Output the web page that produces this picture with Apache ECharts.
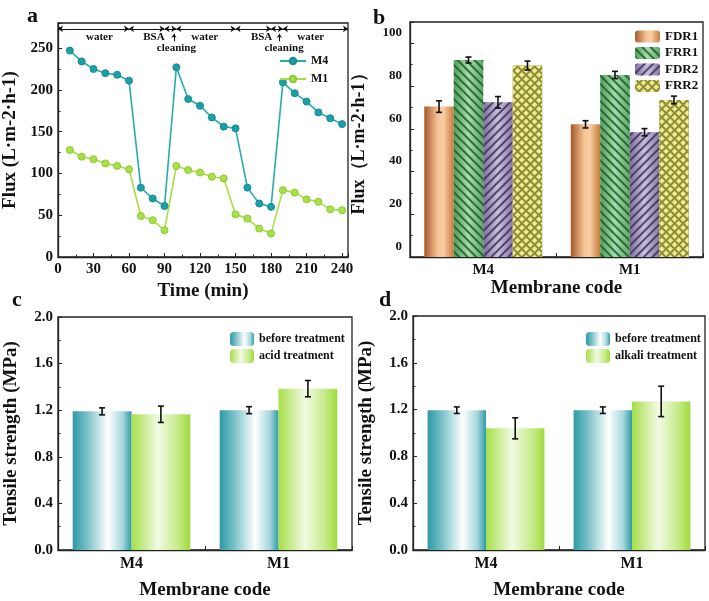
<!DOCTYPE html>
<html lang="en">
<head>
    <meta charset="UTF-8">
    <title>Flux and tensile strength</title>
    <style>
        body, html { margin: 0; padding: 0; background: #fff; }
    </style>
</head>
<body>
<div id="main" style="width: 709px; height: 601px;"></div>
<script src="https://cdn.jsdelivr.net/npm/echarts@6/dist/echarts.min.js"></script>
<script>
    // ---- panel a: flux vs time ----
    var timeMin = [10, 20, 30, 40, 50, 60, 70, 80, 90, 100, 110, 120, 130, 140, 150, 160, 170, 180, 190, 200, 210, 220, 230, 240];
    var fluxM4 = [247, 234, 225, 220, 218, 211, 83, 70, 61, 227, 189, 181, 167, 156, 154, 83, 64, 60, 209, 196, 186, 173, 166, 159];
    var fluxM1 = [128, 120, 117, 112, 109, 105, 49, 44, 32, 109, 104, 101, 96, 94, 51, 46, 34, 28, 80, 77, 69, 66, 57, 56];
    var phaseNames = ['water', 'BSA', 'cleaning', 'water', 'BSA', 'cleaning', 'water'];
    var phaseEdges = [0, 60, 90, 100, 150, 180, 190, 245];
    var cleaningAt = [98, 187];

    // ---- panel b: flux ratios ----
    var membranes = ['M4', 'M1'];
    var ratioNames = ['FDR1', 'FRR1', 'FDR2', 'FRR2'];
    var fdr1 = [70.4, 62.1];
    var frr1 = [92.2, 85.2];
    var fdr2 = [72.4, 58.4];
    var frr2 = [89.6, 73.5];
    var fdr1Err = [2.7, 1.7];
    var frr1Err = [1.4, 1.7];
    var fdr2Err = [2.7, 1.7];
    var frr2Err = [2.1, 1.8];

    // ---- panel c / d: tensile strength ----
    var beforeC = [1.19, 1.20];
    var beforeCErr = [0.03, 0.03];
    var acid = [1.165, 1.385];
    var acidErr = [0.07, 0.07];
    var beforeD = [1.195, 1.195];
    var beforeDErr = [0.028, 0.028];
    var alkali = [1.04, 1.27];
    var alkaliErr = [0.09, 0.13];

    var FONT = '"Liberation Serif", "Times New Roman", serif';

    function txt(size, extra) {
        var o = {fontFamily: FONT, fontWeight: 'bold', color: '#111', fontSize: size};
        for (var k in extra) o[k] = extra[k];
        return o;
    }

    function hGrad(stops) {
        return {
            type: 'linear', x: 0, y: 0, x2: 1, y2: 0,
            colorStops: stops.map(function (s) { return {offset: s[0], color: s[1]}; })
        };
    }

    var tealGrad = hGrad([[0, '#2e9aa6'], [0.2, '#6ab9c1'], [0.6, '#ffffff'], [0.85, '#a6d7dc'], [1, '#2e9aa6']]);
    var limeGrad = hGrad([[0, '#a6df48'], [0.45, '#f2fae4'], [0.8, '#c4ea86'], [1, '#9edb3c']]);

    // error bars drawn on top of grouped bars
    function errorSeries(axisIdx, vals, errs, idx, n, gap) {
        return {
            type: 'custom', xAxisIndex: axisIdx, yAxisIndex: axisIdx, z: 10, silent: true,
            data: vals.map(function (v, i) { return [i, v, errs[i]]; }),
            encode: {x: 0, y: 1},
            renderItem: function (params, api) {
                var c = api.value(0), v = api.value(1), e = api.value(2);
                var catW = api.size([1, 0])[0];
                var groupW = catW * (1 - gap);
                var bw = groupW / n;
                var dx = -groupW / 2 + (idx + 0.5) * bw;
                var top = api.coord([c, v + e]), bot = api.coord([c, v - e]);
                var x = top[0] + dx, hw = 3;
                var st = {stroke: '#111', lineWidth: 1.6};
                return {
                    type: 'group', children: [
                        {type: 'line', shape: {x1: x, y1: top[1], x2: x, y2: bot[1]}, style: st},
                        {type: 'line', shape: {x1: x - hw, y1: top[1], x2: x + hw, y2: top[1]}, style: st},
                        {type: 'line', shape: {x1: x - hw, y1: bot[1], x2: x + hw, y2: bot[1]}, style: st}
                    ]
                };
            }
        };
    }

    var gridStyle = {show: true, borderColor: '#222', borderWidth: 1.3, backgroundColor: 'transparent'};
    function grid(l, t, w, h) {
        return Object.assign({left: l, top: t, width: w, height: h}, gridStyle);
    }

    var axisLine = {show: true, lineStyle: {color: '#222', width: 1.3}};
    var tick = {show: true, inside: true, length: 4, lineStyle: {color: '#222'}};
    var minor = {show: true, splitNumber: 2, length: 2.5, lineStyle: {color: '#222'}};

    // phase annotation arrows + labels along the top of panel a
    var arrowY = 273;
    var phaseLines = [];
    var phaseLabels = [];
    var labelShift = [5, 6, 5, -1, 7, 6, -4];
    for (var i = 0; i < phaseNames.length; i++) {
        phaseLines.push([{coord: [phaseEdges[i], arrowY]}, {coord: [phaseEdges[i + 1], arrowY]}]);
        var mid = (phaseEdges[i] + phaseEdges[i + 1]) / 2 + labelShift[i];
        var yy = phaseNames[i] === 'cleaning' ? 250 : 263;
        phaseLabels.push({coord: [mid, yy], value: phaseNames[i]});
    }
    cleaningAt.forEach(function (t) {
        phaseLines.push([{coord: [t, 258], symbol: 'none'}, {coord: [t, 267], symbol: 'arrow', symbolSize: 4}]);
    });

    var patternSeries = [
        {name: 'FDR1', data: fdr1, color: hGrad([[0, '#a4582a'], [0.45, '#f6c394'], [0.65, '#f8cda2'], [1, '#c77a3c']]), decal: null},
        {name: 'FRR1', data: frr1, color: hGrad([[0, '#4f9e5c'], [0.5, '#a6dcae'], [1, '#5aa866']]),
            decal: {symbol: 'rect', symbolSize: 1, dashArrayX: [1, 0], dashArrayY: [1.5, 4], rotation: Math.PI / 4, color: 'rgba(30,90,40,0.85)'}},
        {name: 'FDR2', data: fdr2, color: hGrad([[0, '#7e6e9c'], [0.5, '#c9c0dc'], [1, '#8a7aa8']]),
            decal: {symbol: 'rect', symbolSize: 1, dashArrayX: [1, 0], dashArrayY: [1.5, 4], rotation: -Math.PI / 4, color: 'rgba(60,50,90,0.85)'}},
        {name: 'FRR2', data: frr2, color: '#8e8c34',
            decal: {symbol: 'rect', symbolSize: 1, dashArrayX: [3.5, 1.3], dashArrayY: [3.5, 1.3], rotation: Math.PI / 4, color: '#ecec92'}}
    ];
    var ratioErrs = [fdr1Err, frr1Err, fdr2Err, frr2Err];

    var series = [
        {
            name: 'M4', type: 'line', xAxisIndex: 0, yAxisIndex: 0,
            data: timeMin.map(function (t, i) { return [t, fluxM4[i]]; }),
            symbol: 'circle', symbolSize: 7,
            lineStyle: {color: '#26acac', width: 1.6},
            itemStyle: {color: '#1ba0a6', borderColor: '#168c92', borderWidth: 1}
        },
        {
            name: 'M1', type: 'line', xAxisIndex: 0, yAxisIndex: 0,
            data: timeMin.map(function (t, i) { return [t, fluxM1[i]]; }),
            symbol: 'circle', symbolSize: 7,
            lineStyle: {color: '#a4e040', width: 1.6},
            itemStyle: {color: '#a8e048', borderColor: '#8cc830', borderWidth: 1}
        },
        {
            type: 'line', xAxisIndex: 0, yAxisIndex: 0, data: [], silent: true,
            markLine: {
                silent: true, symbol: ['arrow', 'arrow'], symbolSize: 5,
                lineStyle: {color: '#111', width: 1, type: 'solid'},
                label: {show: false},
                data: phaseLines
            },
            markPoint: {
                silent: true, symbol: 'circle', symbolSize: 0,
                label: {show: true, position: 'inside', formatter: '{c}', fontFamily: FONT, fontWeight: 'bold', fontSize: 11, color: '#111'},
                data: phaseLabels
            }
        }
    ];

    patternSeries.forEach(function (s) {
        series.push({
            name: s.name, type: 'bar', xAxisIndex: 1, yAxisIndex: 1,
            data: s.data, barGap: '0%', barCategoryGap: '19.5%',
            itemStyle: {color: s.color, decal: s.decal || {symbol: 'none'}}
        });
    });
    patternSeries.forEach(function (s, j) {
        series.push(errorSeries(1, s.data, ratioErrs[j], j, 4, 0.195));
    });

    series.push(
        {name: 'before treatment', type: 'bar', xAxisIndex: 2, yAxisIndex: 2, data: beforeC, barGap: '0%', barCategoryGap: '20%', itemStyle: {color: tealGrad}},
        {name: 'acid treatment', type: 'bar', xAxisIndex: 2, yAxisIndex: 2, data: acid, barGap: '0%', barCategoryGap: '20%', itemStyle: {color: limeGrad}},
        errorSeries(2, beforeC, beforeCErr, 0, 2, 0.2),
        errorSeries(2, acid, acidErr, 1, 2, 0.2),
        {name: 'before treatment', type: 'bar', xAxisIndex: 3, yAxisIndex: 3, data: beforeD, barGap: '0%', barCategoryGap: '20%', itemStyle: {color: tealGrad}},
        {name: 'alkali treatment', type: 'bar', xAxisIndex: 3, yAxisIndex: 3, data: alkali, barGap: '0%', barCategoryGap: '20%', itemStyle: {color: limeGrad}},
        errorSeries(3, beforeD, beforeDErr, 0, 2, 0.2),
        errorSeries(3, alkali, alkaliErr, 1, 2, 0.2)
    );

    function catAxis(gi, size, gap) {
        return {
            type: 'category', gridIndex: gi, data: membranes,
            name: 'Membrane code', nameLocation: 'middle', nameGap: gap,
            nameTextStyle: txt(19),
            axisLine: axisLine, axisTick: {show: true, inside: true, length: 4, lineStyle: {color: '#222'}},
            axisLabel: txt(size, {margin: 6}),
            splitLine: {show: false}
        };
    }

    function tensileY(gi) {
        return {
            type: 'value', gridIndex: gi, min: 0, max: 2, interval: 0.4,
            name: 'Tensile strength (MPa)', nameLocation: 'middle', nameGap: 37, nameRotate: 90,
            nameTextStyle: txt(19),
            axisLine: axisLine, axisTick: tick, minorTick: minor,
            axisLabel: txt(15, {margin: 5, formatter: function (v) { return v.toFixed(1); }}),
            splitLine: {show: false}
        };
    }

    var myChart = echarts.init(document.getElementById('main'), null, {renderer: 'canvas'});
    myChart.setOption({
        backgroundColor: '#fff',
        animation: false,
        title: [
            {text: 'a', left: 22, top: 0, textStyle: txt(22)},
            {text: 'b', left: 368, top: 2, textStyle: txt(22)},
            {text: 'c', left: 7, top: 284, textStyle: txt(22)},
            {text: 'd', left: 374, top: 284, textStyle: txt(22)}
        ],
        grid: [
            grid(55, 23, 293, 234),
            grid(410, 22, 293, 235),
            grid(58, 317, 294, 236),
            grid(413, 316, 292, 236)
        ],
        legend: [
            {
                data: ['M4', 'M1'], orient: 'vertical', left: 274, top: 50,
                itemWidth: 26, itemHeight: 8, itemGap: 6,
                textStyle: txt(12)
            },
            {
                data: ratioNames, orient: 'vertical', left: 630, top: 25,
                itemWidth: 25, itemHeight: 12, itemGap: 3.5,
                textStyle: txt(13)
            },
            {
                data: ['before treatment', 'acid treatment'], orient: 'vertical', left: 225, top: 327,
                itemWidth: 24, itemHeight: 14, itemGap: 3,
                textStyle: txt(12)
            },
            {
                data: ['before treatment', 'alkali treatment'], orient: 'vertical', left: 581, top: 327,
                itemWidth: 24, itemHeight: 14, itemGap: 3,
                textStyle: txt(12)
            }
        ],
        xAxis: [
            {
                type: 'value', gridIndex: 0, min: 0, max: 245, interval: 30,
                name: 'Time (min)', nameLocation: 'middle', nameGap: 25,
                nameTextStyle: txt(19),
                axisLine: axisLine, axisTick: tick, minorTick: minor,
                axisLabel: txt(15, {margin: 5, showMaxLabel: false}),
                splitLine: {show: false}
            },
            catAxis(1, 15, 21),
            catAxis(2, 16, 31),
            catAxis(3, 16, 31)
        ],
        yAxis: [
            {
                type: 'value', gridIndex: 0, min: 0, max: 280, interval: 50,
                name: 'Flux (L·m-2·h-1)', nameLocation: 'middle', nameGap: 38, nameRotate: 90,
                nameTextStyle: txt(19),
                axisLine: axisLine, axisTick: tick, minorTick: minor,
                axisLabel: txt(15, {margin: 5, showMaxLabel: false}),
                splitLine: {show: false}
            },
            {
                type: 'value', gridIndex: 1, min: 0, max: 110, interval: 20,
                name: 'Flux（L·m-2·h-1）', nameLocation: 'middle', nameGap: 42, nameRotate: 90,
                nameTextStyle: txt(18),
                axisLine: axisLine, axisTick: tick, minorTick: minor,
                axisLabel: txt(13, {margin: 8, verticalAlign: 'bottom', padding: [0, 0, 4, 0], showMaxLabel: false}),
                splitLine: {show: false}
            },
            tensileY(2),
            tensileY(3)
        ],
        series: series
    });
</script>
</body>
</html>
